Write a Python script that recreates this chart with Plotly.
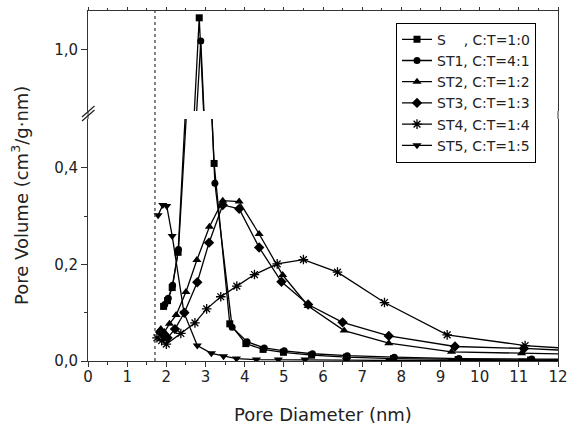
import plotly.graph_objects as go

# ---- data ----
names = ["S\u00a0\u00a0\u00a0\u00a0, C:T=1:0", "ST1, C:T=4:1", "ST2, C:T=1:2",
         "ST3, C:T=1:3", "ST4, C:T=1:4", "ST5, C:T=1:5"]

s_x = [1.93, 2.03, 2.15, 2.30, 2.84, 3.22, 3.62, 4.03, 4.47, 4.99, 5.71, 6.60, 7.80, 9.45, 11.30, 13.0]
s_y = [0.113, 0.125, 0.152, 0.225, 1.066, 0.409, 0.077, 0.036, 0.024, 0.018, 0.012, 0.008, 0.005, 0.003, 0.002, 0.002]

st1_x = [1.96, 2.05, 2.16, 2.31, 2.88, 3.24, 3.68, 4.06, 4.50, 5.01, 5.73, 6.62, 7.82, 9.47, 11.33, 13.0]
st1_y = [0.117, 0.130, 0.157, 0.231, 1.018, 0.368, 0.070, 0.040, 0.027, 0.021, 0.015, 0.011, 0.008, 0.005, 0.004, 0.003]

st2_x = [1.86, 1.95, 2.08, 2.25, 2.50, 2.78, 3.10, 3.44, 3.86, 4.37, 4.97, 5.62, 6.54, 7.68, 9.28, 11.07, 13.0]
st2_y = [0.066, 0.060, 0.077, 0.095, 0.143, 0.209, 0.278, 0.332, 0.330, 0.263, 0.178, 0.114, 0.063, 0.037, 0.019, 0.016, 0.013]

st3_x = [1.84, 1.95, 2.03, 2.22, 2.46, 2.79, 3.09, 3.44, 3.86, 4.37, 4.94, 5.62, 6.50, 7.68, 9.37, 11.13, 13.0]
st3_y = [0.060, 0.052, 0.048, 0.066, 0.100, 0.163, 0.245, 0.323, 0.315, 0.235, 0.164, 0.117, 0.080, 0.052, 0.030, 0.026, 0.019]

st4_x = [1.76, 1.88, 2.00, 2.37, 2.73, 3.03, 3.39, 3.80, 4.25, 4.83, 5.50, 6.37, 7.57, 9.17, 11.16, 13.0]
st4_y = [0.048, 0.042, 0.035, 0.057, 0.079, 0.108, 0.133, 0.155, 0.179, 0.201, 0.210, 0.184, 0.121, 0.054, 0.032, 0.022]

st5_x = [1.79, 1.91, 2.01, 2.15, 2.45, 2.79, 3.15, 3.46, 3.79, 4.30, 4.86, 5.54, 6.60, 7.70, 9.30, 11.10, 13.0]
st5_y = [0.302, 0.323, 0.321, 0.259, 0.100, 0.032, 0.016, 0.010, 0.005, 0.003, 0.003, 0.003, 0.002, 0.001, 0.001, 0.001, 0.001]

xs = [s_x, st1_x, st2_x, st3_x, st4_x, st5_x]
ys = [s_y, st1_y, st2_y, st3_y, st4_y, st5_y]
symbols = ["square", "circle", "triangle-up", "diamond", "asterisk-open", "triangle-down"]
sizes = [7, 7, 8, 8, 8, 8]

x_ticks = list(range(0, 13))
low_ticks = [0.0, 0.2, 0.4]
up_ticks = [1.0]
ref_x = 1.71

FONT = "DejaVu Sans, Liberation Sans, Arial, sans-serif"

# ---- geometry (pixels of the plot area) ----
W, H = 571, 425
L, R, T, B = 88, 558, 11, 361
pw, ph = R - L, B - T


def py(p):
    return (B - p) / ph


def px(p):
    return (p - L) / pw


low_top_px, up_bot_px = 119, 111
low_dom = [0, py(low_top_px)]
up_dom = [py(up_bot_px), 1]
scale = 483.0  # px per unit
low_range = [0, (B - low_top_px) / scale]
up_range = [1.0 - (up_bot_px - 49.7) / scale, 1.0 + (49.7 - T) / scale]

fig = go.Figure()
for i in range(6):
    mk = dict(symbol=symbols[i], size=sizes[i], color="black",
              line=dict(color="black", width=1.3 if i == 4 else 0))
    for ax, show in (("y", True), ("y2", False)):
        fig.add_trace(go.Scatter(
            x=xs[i], y=ys[i], name=names[i], mode="lines+markers",
            line=dict(color="black", width=1.3), marker=mk,
            xaxis="x" if ax == "y" else "x2", yaxis=ax,
            showlegend=show, legendgroup=str(i)))

axis_font = dict(family=FONT, size=15, color="#222")
common_y = dict(showline=True, linecolor="#333", linewidth=1, mirror=True,
                ticks="outside", ticklen=6, tickcolor="#333", showgrid=False,
                zeroline=False, tickfont=axis_font, tickformat=".1f", automargin=False)

fig.update_layout(
    width=W, height=H,
    margin=dict(l=L, r=W - R, t=T, b=H - B, autoexpand=False),
    paper_bgcolor="white", plot_bgcolor="white",
    separators=",.",
    font=dict(family=FONT, color="#222"),
    xaxis=dict(range=[0, 12], tickvals=x_ticks, showline=True, linecolor="#333",
               linewidth=1, ticks="outside", ticklen=5, tickcolor="#333",
               ticklabelstandoff=-3, automargin=False,
               minor=dict(dtick=0.5, ticks="outside", ticklen=3, tickcolor="#333"),
               showgrid=False, zeroline=False, tickfont=axis_font, anchor="y",
               title=dict(text="Pore Diameter (nm)", font=dict(size=18, color="#222"), standoff=24)),
    xaxis2=dict(range=[0, 12], matches="x", anchor="y2", side="top", showline=True,
                linecolor="#333", linewidth=1, ticks="outside", ticklen=3, tickcolor="#333",
                tickvals=x_ticks, showticklabels=False, automargin=False,
                minor=dict(dtick=0.5, ticks="outside", ticklen=2, tickcolor="#333"),
                showgrid=False, zeroline=False),
    yaxis=dict(domain=low_dom, range=low_range, tickvals=low_ticks,
               minor=dict(tickvals=[0.1, 0.3], ticks="outside", ticklen=3, tickcolor="#333"),
               **common_y),
    yaxis2=dict(domain=up_dom, range=up_range, tickvals=up_ticks, anchor="x2", **common_y),
    legend=dict(x=px(396), y=py(22.7), xanchor="left", yanchor="top",
                bordercolor="black", borderwidth=1, bgcolor="white",
                font=dict(size=14, color="#222"), tracegroupgap=0,
                itemwidth=30),
    showlegend=True,
)

# dotted reference line
fig.add_shape(type="line", xref="x", yref="paper", x0=ref_x, x1=ref_x, y0=0, y1=1,
              line=dict(color="#333", width=1.2, dash="dot"))
# axis lines bridging the break
for xv in (0, 1):
    fig.add_shape(type="line", xref="paper", yref="paper", x0=xv, x1=xv,
                  y0=low_dom[1], y1=up_dom[0], line=dict(color="#333", width=1))
# break marks "//"
for dy in (0, 4):
    fig.add_shape(type="line", xref="paper", yref="paper",
                  x0=px(82), y0=py(121 - dy), x1=px(94.5), y1=py(110 - dy),
                  line=dict(color="#222", width=1.2))

fig.add_annotation(text="Pore Volume (cm<sup>3</sup>/g·nm)", textangle=-90,
                   xref="paper", yref="paper", x=px(20), y=py(196),
                   xanchor="center", yanchor="middle", showarrow=False,
                   font=dict(size=18, color="#222"))

fig.write_html("out.html")
